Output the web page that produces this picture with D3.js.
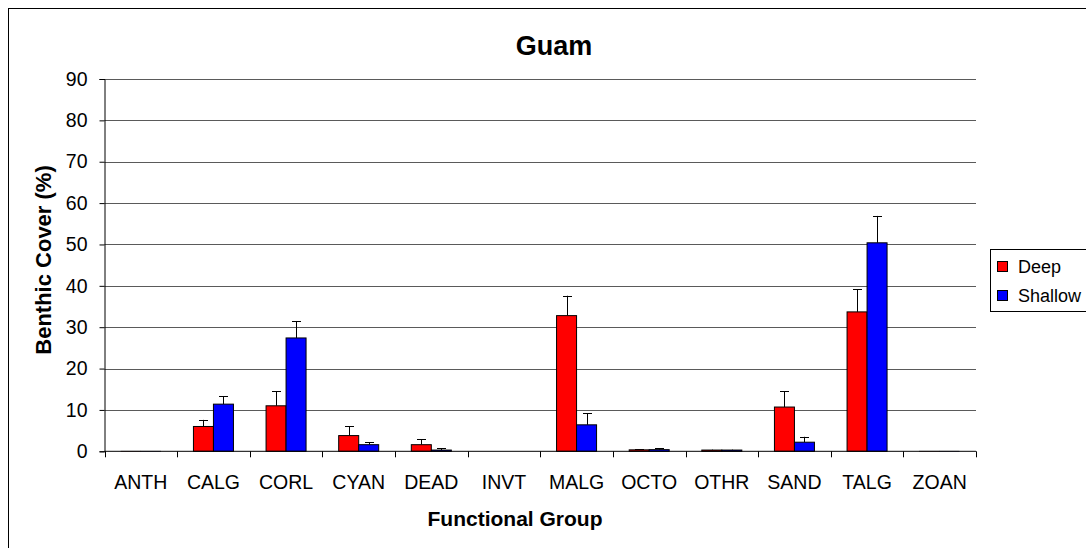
<!DOCTYPE html>
<html><head><meta charset="utf-8">
<script src="https://cdn.jsdelivr.net/npm/d3@7"></script>
<style>body{margin:0;background:#fff;}svg{display:block;font-family:"Liberation Sans",Arial,sans-serif;}</style>
</head><body>
<svg id="c" width="1086" height="548"></svg>
<script>
const categories = ["ANTH","CALG","CORL","CYAN","DEAD","INVT","MALG","OCTO","OTHR","SAND","TALG","ZOAN"];
const series = ["Deep","Shallow"];
const colors = ["#ff0000","#0000ff"];
const deep = [0.05, 6.0, 11.0, 3.8, 1.6, 0, 32.8, 0.35, 0.3, 10.7, 33.7, 0.05];
const deepErr = [0.05, 1.6, 3.5, 2.2, 1.3, 0, 4.8, 0.2, 0.1, 3.8, 5.5, 0.05];
const shallow = [0.05, 11.4, 27.4, 1.6, 0.3, 0, 6.4, 0.4, 0.3, 2.2, 50.4, 0.05];
const shallowErr = [0.05, 1.9, 4.1, 0.6, 0.4, 0, 2.8, 0.3, 0.1, 1.3, 6.5, 0.05];
const yTicks = [0,10,20,30,40,50,60,70,80,90];

const svg = d3.select("#c");
const L = 104.5, R = 976, T = 79, B = 451.3;

svg.append("rect").attr("x",8.5).attr("y",8.5).attr("width",1090).attr("height",541)
  .attr("fill","#fff").attr("stroke","#000").attr("stroke-width",1);

const x = d3.scaleBand().domain(categories).range([L,R]).paddingInner(0).paddingOuter(0);
const y = d3.scaleLinear().domain([0,90]).range([B,T]);
const inner = d3.scaleBand().domain(series).range([0,40]);
const groupOff = (x.bandwidth()-40)/2;

// gridlines
svg.append("g").selectAll("line").data(yTicks.filter(d=>d>0)).join("line")
  .attr("x1",L).attr("x2",R).attr("y1",d=>Math.round(y(d))+0.5).attr("y2",d=>Math.round(y(d))+0.5)
  .attr("stroke","#5a5a5a").attr("stroke-width",1);

const data = [];
categories.forEach((c,i)=>{
  data.push({c, s:"Deep", v:deep[i], e:deepErr[i], col:colors[0]});
  data.push({c, s:"Shallow", v:shallow[i], e:shallowErr[i], col:colors[1]});
});
const bx = d => x(d.c)+groupOff+inner(d.s);

// error bars
const eg = svg.append("g");
data.filter(d=>d.v>0.2).forEach(d=>{
  const cx = Math.round(bx(d)+inner.bandwidth()/2)+0.5;
  eg.append("line").attr("x1",cx).attr("x2",cx).attr("y1",y(d.v)).attr("y2",y(d.v+d.e)).attr("stroke","#000");
  eg.append("line").attr("x1",cx-4.5).attr("x2",cx+4.5).attr("y1",Math.round(y(d.v+d.e))+0.5).attr("y2",Math.round(y(d.v+d.e))+0.5).attr("stroke","#000");
});

// bars
svg.append("g").selectAll("rect").data(data.filter(d=>d.v>0)).join("rect")
  .attr("x",d=>bx(d)).attr("width",inner.bandwidth())
  .attr("y",d=>y(d.v)).attr("height",d=>B-y(d.v))
  .attr("fill",d=>d.col).attr("stroke","#000").attr("stroke-width",d=>d.v>0.2?1:0.4);

// y axis
const ya = svg.append("g").attr("transform",`translate(${L},0)`)
  .call(d3.axisLeft(y).tickValues(yTicks).tickSize(5).tickPadding(12).tickFormat(d3.format("d")));
ya.select(".domain").attr("stroke","#000");
ya.selectAll("line").attr("stroke","#000");
ya.selectAll("text").attr("font-size",19.5).attr("font-family","Liberation Sans, Arial, sans-serif").attr("fill","#000");

// x axis
const xa = svg.append("g").attr("transform",`translate(0,${B})`);
xa.append("line").attr("x1",L).attr("x2",R).attr("y1",0).attr("y2",0).attr("stroke","#000");
const bounds = categories.map(c=>x(c)).concat([R]);
xa.selectAll("line.t").data(bounds).join("line").attr("class","t")
  .attr("x1",d=>Math.round(d)+0.5).attr("x2",d=>Math.round(d)+0.5).attr("y1",0).attr("y2",6).attr("stroke","#000");
xa.selectAll("text").data(categories).join("text")
  .attr("x",d=>x(d)+x.bandwidth()/2).attr("y",38).attr("text-anchor","middle")
  .attr("font-size",19.5).attr("fill","#000").text(d=>d);

// titles
svg.append("text").attr("x",554).attr("y",55).attr("text-anchor","middle")
  .attr("font-size",27).attr("font-weight","bold").text("Guam");
svg.append("text").attr("x",515).attr("y",526).attr("text-anchor","middle")
  .attr("font-size",21).attr("font-weight","bold").text("Functional Group");
svg.append("text").attr("transform","translate(51,260) rotate(-90)").attr("text-anchor","middle")
  .attr("font-size",22).attr("font-weight","bold").text("Benthic Cover (%)");

// legend
const lg = svg.append("g");
lg.append("rect").attr("x",990.5).attr("y",249.5).attr("width",110).attr("height",62)
  .attr("fill","#fff").attr("stroke","#000");
series.forEach((s,i)=>{
  lg.append("rect").attr("x",997.5).attr("y",261.5+i*29).attr("width",10).attr("height",10)
    .attr("fill",colors[i]).attr("stroke","#000");
  lg.append("text").attr("x",1018).attr("y",273+i*29).attr("font-size",18).attr("fill","#000").text(s);
});
</script>
</body></html>
